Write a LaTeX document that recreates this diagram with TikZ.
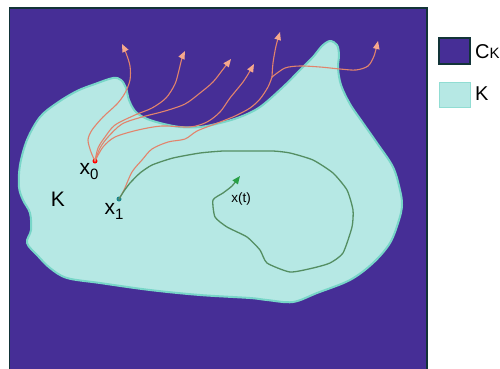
\documentclass[tikz,border=0pt]{standalone}
\usepackage{fontspec}
\setmainfont{Liberation Sans}
\usetikzlibrary{arrows.meta}
\definecolor{bgpurple}{RGB}{70,46,150}
\definecolor{rectborder}{RGB}{18,52,56}
\definecolor{kfill}{RGB}{182,232,228}
\definecolor{kline}{RGB}{120,214,200}
\definecolor{salmon}{RGB}{226,132,108}
\definecolor{tipsalmon}{RGB}{246,168,140}
\definecolor{gpath}{RGB}{84,142,98}
\definecolor{gtip}{RGB}{40,160,70}
\definecolor{x1col}{RGB}{24,134,140}
\tikzset{
  rpath/.style={draw=salmon, line width=1.1pt, line cap=round, line join=round},
  rarrow/.style={rpath, -{Triangle[length=8pt,width=6.5pt,color=tipsalmon]}},
  garrow/.style={draw=gpath, line width=1.3pt, line join=round, -{Triangle[length=8pt,width=6.5pt,color=gtip]}},
  dotnode/.style={circle, inner sep=0pt, minimum size=5pt},
  lbl/.style={inner sep=0pt, font=\fontsize{21}{21}\selectfont},
  leg/.style={inner sep=0pt, anchor=base west, font=\fontsize{20}{20}\selectfont},
}
\begin{document}
\begin{tikzpicture}[x=1pt,y=-1pt]
\useasboundingbox (0,0) rectangle (500,368);
% frame
\draw[line width=1.6pt, draw=rectborder, fill=bgpurple] (9.5,8) rectangle (427,380);
% K region
\draw[fill=kfill, draw=kline, line width=2pt] plot[smooth cycle, tension=0.55] coordinates {
 (19,187) (20,165) (27,140) (40,117) (57,103) (77,91) (95,84) (113,78) (121,80) (126,88)
 (129,100) (135,111) (145,118) (160,123) (180,127) (200,127) (220,123) (240,117) (260,107)
 (283,87) (300,70) (313,57) (322,46) (330,41) (337,45) (339,55) (338,68) (341,85) (350,104)
 (363,123) (377,143) (393,167) (400,190) (402,205) (399,220) (390,243) (373,263) (350,280)
 (317,293) (293,302) (267,300) (250,298) (200,295) (150,290) (100,283) (67,278) (50,268)
 (38,256) (27,243) (31,230) (30,213) (23,200)};
% points
\node[dotnode, fill=red] (x0) at (95,161) {};
\node[dotnode, fill=x1col] (x1) at (119,199) {};
\coordinate (a1) at (122,44);
\coordinate (a2) at (185,51);
\coordinate (a3) at (231,59);
\coordinate (a4) at (254,64);
\coordinate (a5) at (280,32);
\coordinate (a6) at (378,41);
\coordinate (br) at (272,77);
\coordinate (xt) at (240,176);
% red paths from x0
\draw[rarrow] plot[smooth, tension=0.5] coordinates {(x0) (91,152) (88,140) (92,130) (103,117) (117,104) (125,93) (130,80) (130,66) (126,53) (a1)};
\draw[rarrow] plot[smooth, tension=0.5] coordinates {(x0) (98,148) (105,137) (115,125) (135,115) (152,108) (166,98) (175,84) (179,70) (182,58) (a2)};
\draw[rarrow] plot[smooth, tension=0.5] coordinates {(x0) (100,148) (108,137) (122,124) (142,117) (165,111) (185,104) (200,93) (213,82) (224,68) (a3)};
\draw[rarrow] plot[smooth, tension=0.5] coordinates {(x0) (103,147) (115,137) (138,130) (162,126) (190,127) (207,122) (220,112) (230,98) (243,82) (250,71) (a4)};
% red path from x1, branching
\draw[rpath] plot[smooth, tension=0.5] coordinates {(x1) (124,190) (132,172) (142,160) (152,149) (168,142) (185,139) (197,131) (215,124) (235,116) (250,108) (260,99) (268,87) (br)};
\draw[rarrow] plot[smooth, tension=0.5] coordinates {(br) (273,63) (276,46) (a5)};
\draw[rarrow] plot[smooth, tension=0.5] coordinates {(br) (285,68) (300,66) (320,67) (340,69) (356,70) (368,66) (374,56) (a6)};
% green trajectory
\draw[garrow] plot[smooth, tension=0.35] coordinates {(x1) (124,191) (130,183) (140,173) (152,165) (173,158) (200,153) (223,151) (243,151) (273,151) (290,153) (313,160) (333,173) (347,190) (353,210) (352,227) (343,253) (330,263) (313,268) (290,272) (267,263) (260,250) (247,237) (227,227) (215,217) (213,200) (223,193) (232,186) (xt)};
% labels
\node[lbl] (lx0) at (89,172) {x\raisebox{-5pt}{\fontsize{15}{15}\selectfont 0}};
\node[lbl] (lx1) at (114,211) {x\raisebox{-5pt}{\fontsize{15}{15}\selectfont 1}};
\node[lbl] (lK) at (58,199) {K};
\node[inner sep=0pt, font=\fontsize{13.5}{13.5}\selectfont] (lxt) at (241,199) {x(t)};
% legend
\node[draw=rectborder, line width=1.2pt, fill=bgpurple, minimum width=31pt, minimum height=26pt, inner sep=0pt] (legC) at (454.5,51) {};
\node[draw=kline!60!kfill, line width=1pt, fill=kfill, minimum width=31pt, minimum height=25pt, inner sep=0pt] (legK) at (454.5,94.5) {};
\node[leg] (tC) at (475,58) {C{\fontsize{15}{15}\selectfont K}};
\node[leg] (tK) at (475,100) {K};
\end{tikzpicture}
\end{document}
